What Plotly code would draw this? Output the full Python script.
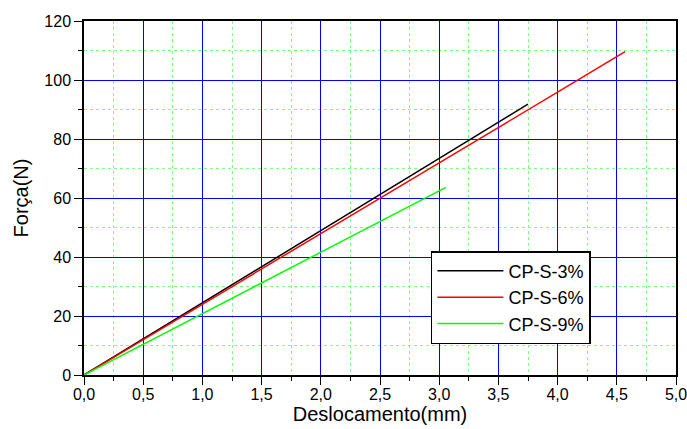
import plotly.graph_objects as go

# Data
x_cp3 = [0.0, 1.0, 2.0, 3.0, 3.75]
y_cp3 = [0.0, 24.4, 48.9, 73.4, 91.8]
x_cp6 = [0.0, 1.0, 2.0, 3.0, 4.0, 4.57]
y_cp6 = [0.0, 23.9, 47.9, 71.9, 95.9, 109.6]
x_cp9 = [0.0, 1.0, 2.0, 3.056]
y_cp9 = [0.0, 20.8, 41.6, 63.6]
names = ["CP-S-3%", "CP-S-6%", "CP-S-9%"]
colors = ["#000000", "#ff0000", "#00ff00"]

fig = go.Figure()
for xs, ys, nm, c in zip([x_cp3, x_cp6, x_cp9], [y_cp3, y_cp6, y_cp9], names, colors):
    fig.add_trace(go.Scatter(x=xs, y=ys, mode="lines", name=nm,
                             line=dict(color=c, width=1.5)))

FONT = "Arial, Liberation Sans, sans-serif"
axis_common = dict(
    showline=True, linecolor="black", linewidth=1.5, mirror=True,
    ticks="outside", ticklen=8, tickwidth=1.2, tickcolor="black",
    showgrid=True, gridcolor="#0000ff", gridwidth=1,
    zeroline=False, automargin=False, ticklabeloverflow="allow",
    tickfont=dict(family=FONT, size=16, color="black"),
    title_font=dict(family=FONT, size=20, color="black"),
)

fig.update_xaxes(range=[0, 5], dtick=0.5, tick0=0, tickformat=".1f",
                 title_text="Deslocamento(mm)", title_standoff=3,
                 ticklabelstandoff=-4,
                 minor=dict(dtick=0.25, ticks="outside", ticklen=4, tickcolor="black",
                            showgrid=True, gridcolor="#7fff7f", griddash="dot", gridwidth=1),
                 **axis_common)
fig.update_yaxes(range=[0, 120], dtick=20, tick0=0,
                 title_text="Força(N)", title_standoff=10,
                 minor=dict(dtick=10, ticks="outside", ticklen=4, tickcolor="black",
                            showgrid=True, gridcolor="#7fff7f", griddash="dot", gridwidth=1),
                 **axis_common)

fig.update_layout(
    width=687, height=429,
    margin=dict(l=84, r=11, t=21, b=54),
    paper_bgcolor="white", plot_bgcolor="white",
    separators=",.",
    legend=dict(x=0.586, y=0.35, xanchor="left", yanchor="top",
                bgcolor="white", bordercolor="black", borderwidth=1.5,
                font=dict(family=FONT, size=18, color="black"),
                tracegroupgap=0, itemwidth=66),
    showlegend=True,
)

fig.write_html("out.html")
